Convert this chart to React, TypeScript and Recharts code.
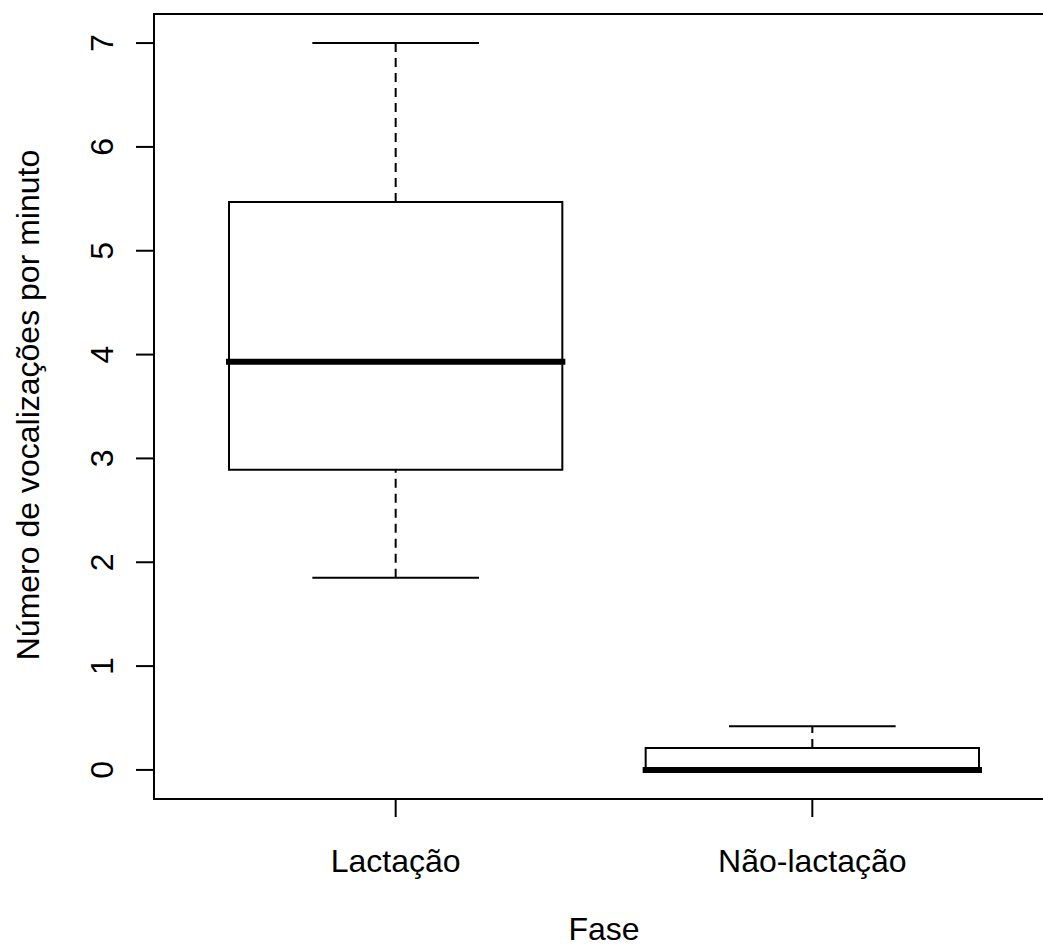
import {
  ComposedChart,
  XAxis,
  YAxis,
  Scatter,
  ReferenceArea,
  ReferenceLine,
  Customized,
} from "recharts";

// Boxplot summary for each phase
const categories = ["Lactação", "Não-lactação"];
const whiskerLow = [1.85, 0];
const q1 = [2.89, 0];
const median = [3.93, 0];
const q3 = [5.47, 0.21];
const whiskerHigh = [7, 0.42];
const yTicks = [0, 1, 2, 3, 4, 5, 6, 7];

const FONT = '"Liberation Sans", Arial, Helvetica, sans-serif';
const INK = "#000";
const BOX_HALF = 0.4;
const CAP_HALF = 0.2;
const X_DOMAIN: [number, number] = [0.42, 2.58];
const Y_DOMAIN: [number, number] = [-0.28, 7.28];

const points = categories.map((name, i) => ({ x: i + 1, y: median[i], name }));

function YTick({ x, y, payload }: any) {
  return (
    <text
      x={x}
      y={y}
      transform={`rotate(-90, ${x}, ${y})`}
      textAnchor="middle"
      fontSize={32}
      fontFamily={FONT}
      fill={INK}
    >
      {payload.value}
    </text>
  );
}

function XTick({ x, y, payload }: any) {
  return (
    <text x={x} y={y + 24} textAnchor="middle" fontSize={32} fontFamily={FONT} fill={INK}>
      {categories[payload.value - 1]}
    </text>
  );
}

function Titles() {
  return (
    <g fontFamily={FONT} fontSize={32} fill={INK}>
      <text x={604} y={940} textAnchor="middle">
        Fase
      </text>
      <text x={39} y={405} textAnchor="middle" transform="rotate(-90, 39, 405)">
        Número de vocalizações por minuto
      </text>
    </g>
  );
}

export default function App() {
  return (
    <div style={{ position: "absolute", left: 0, top: 0, background: "#fff" }}>
      <ComposedChart
        width={1043}
        height={949}
        data={points}
        margin={{ top: 14, right: -11, bottom: 0, left: 0 }}
      >
        <XAxis
          dataKey="x"
          type="number"
          domain={X_DOMAIN}
          ticks={[1, 2]}
          allowDataOverflow
          axisLine={false}
          tickLine={{ stroke: INK, strokeWidth: 2 }}
          tickSize={18}
          tickMargin={31}
          height={150}
          tick={<XTick />}
        />
        <YAxis
          dataKey="y"
          type="number"
          domain={Y_DOMAIN}
          ticks={yTicks}
          allowDataOverflow
          axisLine={false}
          tickLine={{ stroke: INK, strokeWidth: 2 }}
          tickSize={18}
          tickMargin={23}
          width={154}
          tick={<YTick />}
        />

        {categories.map((c, i) => {
          const cx = i + 1;
          return [
            <ReferenceLine
              key={`wh-${c}`}
              segment={[
                { x: cx, y: q3[i] },
                { x: cx, y: whiskerHigh[i] },
              ]}
              stroke={INK}
              strokeWidth={2}
              strokeDasharray="9 6"
            />,
            <ReferenceLine
              key={`wl-${c}`}
              segment={[
                { x: cx, y: whiskerLow[i] },
                { x: cx, y: q1[i] },
              ]}
              stroke={INK}
              strokeWidth={2}
              strokeDasharray="9 6"
            />,
            <ReferenceLine
              key={`ch-${c}`}
              segment={[
                { x: cx - CAP_HALF, y: whiskerHigh[i] },
                { x: cx + CAP_HALF, y: whiskerHigh[i] },
              ]}
              stroke={INK}
              strokeWidth={2}
            />,
            <ReferenceLine
              key={`cl-${c}`}
              segment={[
                { x: cx - CAP_HALF, y: whiskerLow[i] },
                { x: cx + CAP_HALF, y: whiskerLow[i] },
              ]}
              stroke={INK}
              strokeWidth={2}
            />,
            <ReferenceArea
              key={`box-${c}`}
              x1={cx - BOX_HALF}
              x2={cx + BOX_HALF}
              y1={q1[i]}
              y2={q3[i]}
              fill="none"
              fillOpacity={0}
              stroke={INK}
              strokeWidth={2}
            />,
            <ReferenceLine
              key={`md-${c}`}
              segment={[
                { x: cx - BOX_HALF, y: median[i] },
                { x: cx + BOX_HALF, y: median[i] },
              ]}
              stroke={INK}
              strokeWidth={6}
              strokeLinecap="square"
            />,
          ];
        })}

        {/* plot frame */}
        <ReferenceArea
          x1={X_DOMAIN[0]}
          x2={X_DOMAIN[1]}
          y1={Y_DOMAIN[0]}
          y2={Y_DOMAIN[1]}
          fill="none"
          fillOpacity={0}
          stroke={INK}
          strokeWidth={2}
          ifOverflow="visible"
        />

        <Scatter dataKey="y" isAnimationActive={false} shape={() => <g />} />
        <Customized component={Titles} />
      </ComposedChart>
    </div>
  );
}
